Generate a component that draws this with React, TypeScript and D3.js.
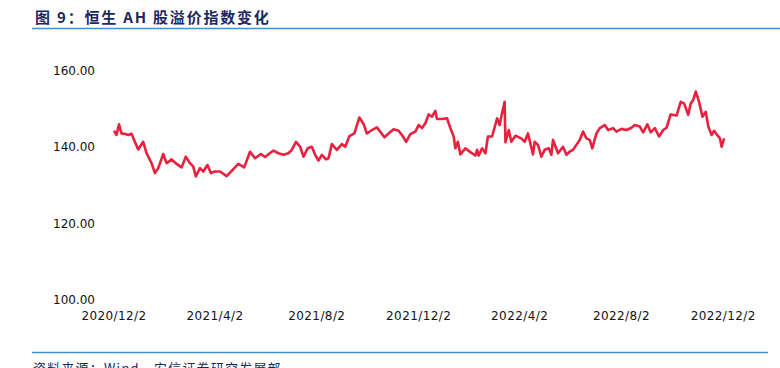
import React from "react";
import * as d3 from "d3";

const dates: string[] = [
  "2020-12-02","2020-12-05","2020-12-08","2020-12-11","2020-12-15","2020-12-19","2020-12-23","2020-12-27","2020-12-31",
  "2021-01-06","2021-01-10","2021-01-16","2021-01-20","2021-01-24","2021-01-30","2021-02-03","2021-02-09","2021-02-15",
  "2021-02-21","2021-02-26","2021-03-03","2021-03-07","2021-03-10","2021-03-15","2021-03-19","2021-03-24","2021-03-28",
  "2021-04-02","2021-04-08","2021-04-16","2021-04-22","2021-04-30","2021-05-07","2021-05-14","2021-05-20","2021-05-27",
  "2021-06-01","2021-06-11","2021-06-17","2021-06-23","2021-06-29","2021-07-03","2021-07-08","2021-07-13","2021-07-17",
  "2021-07-22","2021-07-27","2021-07-31","2021-08-04","2021-08-08","2021-08-13","2021-08-16","2021-08-20","2021-08-26",
  "2021-09-01","2021-09-05","2021-09-10","2021-09-16","2021-09-22","2021-09-27","2021-10-01","2021-10-07","2021-10-13",
  "2021-10-22","2021-10-27","2021-11-02","2021-11-08","2021-11-12","2021-11-17","2021-11-22","2021-11-28","2021-12-02",
  "2021-12-06","2021-12-10","2021-12-14","2021-12-18","2021-12-22","2021-12-24","2021-12-30","2022-01-05","2022-01-09",
  "2022-01-13","2022-01-15","2022-01-18","2022-01-21","2022-01-27","2022-02-02","2022-02-08","2022-02-10","2022-02-12",
  "2022-02-16","2022-02-20","2022-02-23","2022-02-28","2022-03-06","2022-03-09","2022-03-11","2022-03-15","2022-03-16",
  "2022-03-20","2022-03-23","2022-03-28","2022-04-04","2022-04-08","2022-04-12","2022-04-18","2022-04-20","2022-04-24",
  "2022-04-28","2022-05-02","2022-05-07","2022-05-10","2022-05-12","2022-05-18","2022-05-24","2022-05-28","2022-06-01",
  "2022-06-05","2022-06-09","2022-06-13","2022-06-17","2022-06-21","2022-06-25","2022-06-28","2022-07-03","2022-07-07",
  "2022-07-13","2022-07-17","2022-07-23","2022-07-27","2022-08-02","2022-08-08","2022-08-14","2022-08-18","2022-08-24",
  "2022-08-28","2022-09-02","2022-09-06","2022-09-11","2022-09-16","2022-09-21","2022-09-25","2022-09-30","2022-10-07",
  "2022-10-12","2022-10-16","2022-10-21","2022-10-24","2022-10-27","2022-10-30","2022-11-03","2022-11-07","2022-11-11",
  "2022-11-14","2022-11-18","2022-11-21","2022-11-24","2022-11-28","2022-11-30","2022-12-03"
];

const values: number[] = [
  144.3,143.2,146.0,143.6,143.5,143.2,143.5,141.4,139.4,
  141.4,138.4,135.8,133.2,134.5,138.2,135.8,136.8,135.6,
  134.7,137.5,135.8,134.9,132.3,134.5,133.6,135.3,133.2,
  133.6,133.6,132.4,133.8,135.6,134.7,138.8,137.1,138.2,
  137.4,139.1,138.4,138.0,138.4,139.3,141.4,140.1,137.5,
  139.7,140.1,138.0,136.5,138.0,136.8,137.1,140.8,139.3,
  140.8,140.1,142.9,143.6,147.8,146.1,143.6,144.5,145.2,
  142.6,143.6,144.7,144.3,143.2,141.4,143.4,144.1,145.8,
  145.0,146.3,148.6,148.0,149.5,147.4,147.4,147.6,145.0,
  142.8,139.7,141.4,138.1,139.7,138.7,137.8,139.3,137.8,
  139.7,138.4,142.8,142.8,147.6,145.8,148.0,151.9,141.3,
  144.5,141.4,143.0,142.3,141.4,143.6,138.1,141.4,140.6,
  137.5,139.3,139.7,138.0,141.9,138.4,140.1,138.0,138.8,
  139.3,140.6,141.9,144.1,142.3,141.9,139.7,143.6,145.0,
  145.8,144.5,145.0,144.1,144.8,144.5,145.1,145.8,145.4,
  143.9,146.0,143.9,145.0,142.8,144.5,145.1,148.6,148.3,
  151.9,151.5,148.5,151.5,152.4,154.6,151.9,148.0,149.3,
  145.4,143.2,144.3,143.4,142.3,140.1,142.3
];

const xTickLabels: string[] = ["2020/12/2","2021/4/2","2021/8/2","2021/12/2","2022/4/2","2022/8/2","2022/12/2"];
const yTicks: number[] = [100, 120, 140, 160];

const title = "图 9：恒生 AH 股溢价指数变化";
const source = "资料来源：Wind，安信证券研究发展部";

const W = 780, H = 368;

export default function App() {
  const parse = d3.timeParse("%Y-%m-%d");
  const parseLabel = d3.timeParse("%Y/%m/%d");
  const data = dates.map((d, i) => ({ date: parse(d) as Date, value: values[i] }));

  const x = d3.scaleTime()
    .domain([parseLabel("2020/12/2") as Date, parseLabel("2022/12/2") as Date])
    .range([114, 723.3]);
  const y = d3.scaleLinear().domain([100, 160]).range([299.5, 71]);

  const line = d3.line<{ date: Date; value: number }>()
    .x(d => x(d.date))
    .y(d => y(d.value))
    .curve(d3.curveLinear);

  const navy = "#1c2a5e";
  const blue = "#3d8fd6";

  return (
    <svg width={W} height={H} style={{ position: "absolute", left: 0, top: 0, background: "#fff" }}
      fontFamily="'DejaVu Sans', sans-serif">
      <text x={35} y={23} fontSize={15} fontWeight="bold" fill={navy} letterSpacing={1.8}
        fontFamily="'Noto Sans CJK SC', sans-serif">{title}</text>
      <line x1={32} x2={780} y1={28.5} y2={28.5} stroke={blue} strokeWidth={1.5} />

      {yTicks.map(t => (
        <text key={t} x={95} y={y(t)} dy="0.35em" textAnchor="end" fontSize={12} fill="#111">
          {d3.format(".2f")(t)}
        </text>
      ))}

      {xTickLabels.map(l => (
        <text key={l} x={x(parseLabel(l) as Date)} y={316} dy="0.35em" textAnchor="middle" fontSize={12}
          fill="#111" letterSpacing={0.4}>{l}</text>
      ))}

      <path d={line(data) || ""} fill="none" stroke="#e8213f" strokeWidth={2.6} strokeLinejoin="round" />

      <line x1={32} x2={768} y1={352.5} y2={352.5} stroke={blue} strokeWidth={1.5} />
      <text x={33} y={373} fontSize={13} fill={navy} letterSpacing={1.2}
        fontFamily="'Noto Sans CJK SC', sans-serif">{source}</text>
    </svg>
  );
}
